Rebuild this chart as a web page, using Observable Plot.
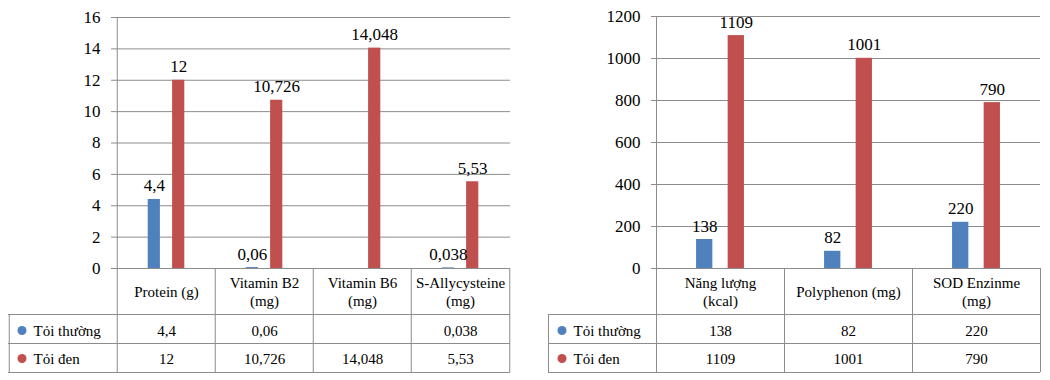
<!DOCTYPE html>
<html>
<head>
<meta charset="utf-8">
<script src="https://cdn.jsdelivr.net/npm/d3@7"></script>
<script src="https://cdn.jsdelivr.net/npm/@observablehq/plot@0.6"></script>
<style>
  html, body { margin: 0; padding: 0; background: #fff; }
  #wrap { display: flex; width: 1050px; height: 380px; }
  #wrap svg { overflow: visible; }
</style>
</head>
<body>
<div id="wrap"></div>
<script>
// ---- data ----
const seriesNames = ["Tỏi thường", "Tỏi đen"];
const seriesColors = ["#4F81BD", "#C0504D"];

const catsLeft = ["Protein (g)", "Vitamin B2\n(mg)", "Vitamin B6\n(mg)", "S-Allycysteine\n(mg)"];
const thuongLeft = [4.4, 0.06, null, 0.038];
const denLeft = [12, 10.726, 14.048, 5.53];
const ticksLeft = [0, 2, 4, 6, 8, 10, 12, 14, 16];

const catsRight = ["Năng lượng\n(kcal)", "Polyphenon (mg)", "SOD Enzinme\n(mg)"];
const thuongRight = [138, 82, 220];
const denRight = [1109, 1001, 790];
const ticksRight = [0, 200, 400, 600, 800, 1000, 1200];

const fmt = v => String(v).replace(".", ",");
const GRID = "#8c8c8c";
const FONT = "'Liberation Serif', 'Times New Roman', serif";

function chart({cats, a, b, ticks, width, ml, mr, mt, mb, off, bar}) {
  const height = 380;
  const fw = width - ml - mr;
  const fh = height - mt - mb;
  const bw = fw / cats.length;
  const ext = 108;
  const hdrB = 46, r1B = 75, r2B = 104;
  const dataA = cats.map((c, i) => ({cat: c, v: a[i]})).filter(d => d.v != null);
  const dataB = cats.map((c, i) => ({cat: c, v: b[i]})).filter(d => d.v != null);
  const ins = o => ({insetLeft: bw / 2 + o - bar / 2, insetRight: bw / 2 - o - bar / 2});
  const last = [cats[cats.length - 1]];
  const T = {fill: "#000", fontFamily: "Liberation Serif"};
  const svg = Plot.plot({
    width, height,
    marginLeft: ml, marginRight: mr, marginTop: mt, marginBottom: mb,
    style: {fontFamily: "Liberation Serif", fontSize: "15px", color: "#000", background: "transparent", overflow: "visible"},
    x: {domain: cats, padding: 0, axis: null},
    y: {domain: [ticks[0], ticks[ticks.length - 1]], axis: null},
    marks: [
      Plot.ruleY(ticks.slice(1), {stroke: GRID}),
      Plot.axisY(ticks, {tickSize: 5, tickPadding: 11, stroke: GRID, fill: "#000", fontFamily: "Liberation Serif", fontSize: 17, tickFormat: d => String(d), label: null}),
      // bars
      Plot.barY(dataA, {x: "cat", y: "v", fill: seriesColors[0], ...ins(-off)}),
      Plot.barY(dataB, {x: "cat", y: "v", fill: seriesColors[1], ...ins(off)}),
      // value labels
      Plot.text(dataA, {x: "cat", y: "v", text: d => fmt(d.v), dx: -off, dy: -8, lineAnchor: "bottom", fontSize: 17, ...T}),
      Plot.text(dataB, {x: "cat", y: "v", text: d => fmt(d.v), dx: off, dy: -8, lineAnchor: "bottom", fontSize: 17, ...T}),
      // table lines
      Plot.ruleY([ticks[0]], {stroke: GRID}),
      Plot.ruleY([ticks[0]], {stroke: GRID, dy: hdrB, insetLeft: -ext}),
      Plot.ruleY([ticks[0]], {stroke: GRID, dy: r1B, insetLeft: -ext}),
      Plot.ruleY([ticks[0]], {stroke: GRID, dy: r2B, insetLeft: -ext}),
      Plot.ruleX([cats[0]], {x: d => d, stroke: GRID, dx: -bw / 2, insetBottom: -r2B}),
      Plot.ruleX(cats.slice(1), {x: d => d, stroke: GRID, dx: -bw / 2, insetTop: fh, insetBottom: -r2B}),
      Plot.ruleX(last, {x: d => d, stroke: GRID, dx: bw / 2, insetTop: fh, insetBottom: -r2B}),
      Plot.ruleX([cats[0]], {x: d => d, stroke: GRID, dx: -bw / 2 - ext, insetTop: fh + hdrB, insetBottom: -r2B}),
      // table header
      Plot.text(cats, {x: d => d, text: d => d, frameAnchor: "bottom", dy: 23, lineAnchor: "middle", lineHeight: 1.15, fontSize: 15, ...T}),
      // table rows
      Plot.text(dataA, {x: "cat", text: d => fmt(d.v), frameAnchor: "bottom", dy: 63, lineAnchor: "middle", fontSize: 15, ...T}),
      Plot.text(dataB, {x: "cat", text: d => fmt(d.v), frameAnchor: "bottom", dy: 91, lineAnchor: "middle", fontSize: 15, ...T}),
      // row labels with legend dots
      Plot.dot([seriesNames[0]], {frameAnchor: "bottom-left", dx: -ext + 13.5, dy: 62, r: 4.5, fill: seriesColors[0], stroke: null}),
      Plot.dot([seriesNames[1]], {frameAnchor: "bottom-left", dx: -ext + 13.5, dy: 90, r: 4.5, fill: seriesColors[1], stroke: null}),
      Plot.text([seriesNames[0]], {text: d => d, frameAnchor: "bottom-left", dx: -ext + 25, dy: 63, textAnchor: "start", lineAnchor: "middle", fontSize: 15, ...T}),
      Plot.text([seriesNames[1]], {text: d => d, frameAnchor: "bottom-left", dx: -ext + 25, dy: 91, textAnchor: "start", lineAnchor: "middle", fontSize: 15, ...T})
    ]
  });
  svg.setAttribute("font-family", "Liberation Serif");
  svg.querySelectorAll("text, tspan").forEach(t => t.style.setProperty("font-family", FONT, "important"));
  return svg;
}

const wrap = document.getElementById("wrap");
wrap.appendChild(chart({cats: catsLeft, a: thuongLeft, b: denLeft, ticks: ticksLeft,
  width: 525, ml: 116, mr: 15, mt: 17, mb: 112, off: 12.2, bar: 12.7}));
wrap.appendChild(chart({cats: catsRight, a: thuongRight, b: denRight, ticks: ticksRight,
  width: 525, ml: 131, mr: 10, mt: 16, mb: 112, off: 15.8, bar: 16.3}));
</script>
</body>
</html>
